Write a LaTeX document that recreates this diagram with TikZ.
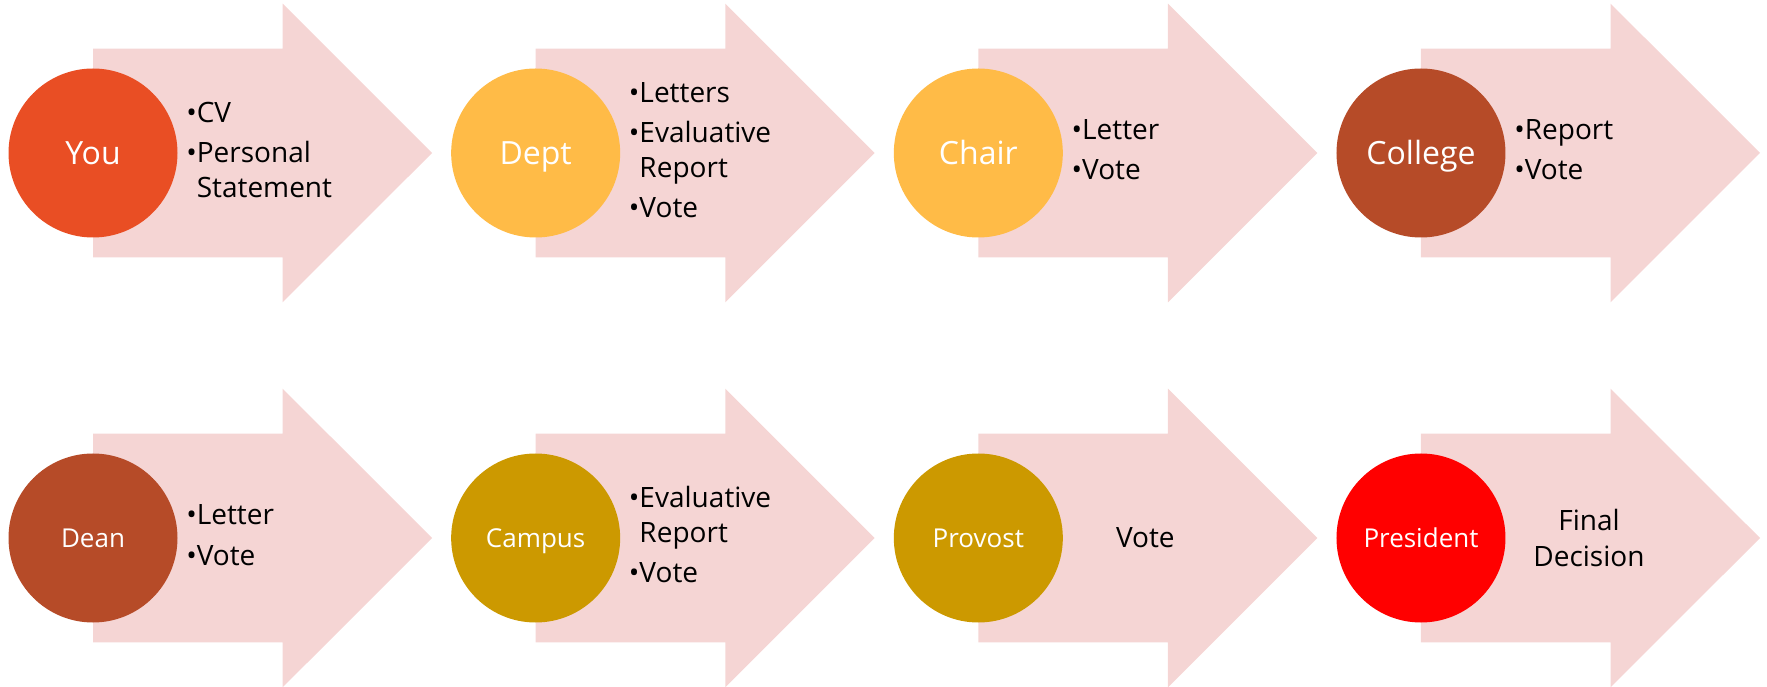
\documentclass[tikz,border=0pt]{standalone}
\usepackage{fontspec}
\setmainfont{Open Sans}
\usepackage{tikz}
\usetikzlibrary{shapes.arrows}
\usetikzlibrary{positioning,backgrounds}
\definecolor{flowpink}{HTML}{F5D5D4}
\definecolor{youred}{HTML}{E94E24}
\definecolor{deptgold}{HTML}{FFBB47}
\definecolor{brickred}{HTML}{B64B28}
\definecolor{mustard}{HTML}{CC9900}
\definecolor{presred}{HTML}{FF0000}
\tikzset{
    stage/.style={
           circle,
           minimum size=84.5pt,
           inner sep=0pt,
           text=white,
           text height=11.4pt,
           text depth=0pt,
           font=\fontsize{16}{19}\selectfont,
           },
    smallstage/.style={
           stage,
           text height=9.3pt,
           font=\fontsize{13}{16}\selectfont,
           },
    flow/.style={
           single arrow,
           fill=flowpink,
           minimum height=169.5pt,
           inner xsep=0pt,
           inner ysep=52pt,
           single arrow head extend=22.5pt,
           outer sep=0pt,
           anchor=tail,
           },
    notes/.style={
           anchor=west,
           inner sep=0pt,
           xshift=4pt,
           font=\fontsize{14}{17.5}\selectfont,
           },
    midnote/.style={
           align=center,
           inner sep=0pt,
           font=\fontsize{14}{17.5}\selectfont,
           },
}

\begin{document}
\begin{tikzpicture}[node distance=221.33pt, on grid]
\useasboundingbox (0,0) rectangle (883.5pt,343pt);
 % the eight steps
 \node[stage, fill=youred] (you) at (46.5pt,266.5pt) {You};
 \node[stage, fill=deptgold, right=of you] (dept) {Dept};
 \node[stage, fill=deptgold, right=of dept] (chair) {Chair};
 \node[stage, fill=brickred, right=of chair] (college) {College};
 \node[smallstage, fill=brickred, below=192.5pt of you] (dean) {Dean};
 \node[smallstage, fill=mustard, right=of dean] (campus) {Campus};
 \node[smallstage, fill=mustard, right=of campus] (provost) {Provost};
 \node[smallstage, fill=presred, right=of provost] (president) {President};
 % the arrows behind them
 \begin{scope}[on background layer]
  \node[flow] (you-arr) at (you.center) {};
  \node[flow] (dept-arr) at (dept.center) {};
  \node[flow] (chair-arr) at (chair.center) {};
  \node[flow] (college-arr) at (college.center) {};
  \node[flow] (dean-arr) at (dean.center) {};
  \node[flow] (campus-arr) at (campus.center) {};
  \node[flow] (provost-arr) at (provost.center) {};
  \node[flow] (president-arr) at (president.center) {};
 \end{scope}
 % what each step hands on
 \node[notes] (you-txt) at (you.east)
 {%
 \begin{tabular}{@{}l@{}l@{}}
  \textbullet & CV\\[2.5pt]
  \textbullet & Personal\\
   & Statement
 \end{tabular}
 };
 \node[notes] (dept-txt) at (dept.east)
 {%
 \begin{tabular}{@{}l@{}l@{}}
  \textbullet & Letters\\[2.5pt]
  \textbullet & Evaluative\\
   & Report\\[2.5pt]
  \textbullet & Vote
 \end{tabular}
 };
 \node[notes] (chair-txt) at (chair.east)
 {%
 \begin{tabular}{@{}l@{}l@{}}
  \textbullet & Letter\\[2.5pt]
  \textbullet & Vote
 \end{tabular}
 };
 \node[notes] (college-txt) at (college.east)
 {%
 \begin{tabular}{@{}l@{}l@{}}
  \textbullet & Report\\[2.5pt]
  \textbullet & Vote
 \end{tabular}
 };
 \node[notes] (dean-txt) at (dean.east)
 {%
 \begin{tabular}{@{}l@{}l@{}}
  \textbullet & Letter\\[2.5pt]
  \textbullet & Vote
 \end{tabular}
 };
 \node[notes] (campus-txt) at (campus.east)
 {%
 \begin{tabular}{@{}l@{}l@{}}
  \textbullet & Evaluative\\
   & Report\\[2.5pt]
  \textbullet & Vote
 \end{tabular}
 };
 \node[midnote] (provost-txt) at ([xshift=83.5pt]provost.center) {Vote};
 \node[midnote] (president-txt) at ([xshift=84pt]president.center) {Final\\Decision};
\end{tikzpicture}
\end{document}
